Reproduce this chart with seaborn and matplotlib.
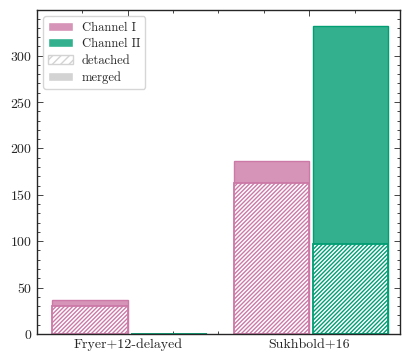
import pandas as pd
import seaborn as sns
import matplotlib.pyplot as plt
from matplotlib.patches import Patch
from matplotlib.colors import to_rgba
from matplotlib.ticker import MultipleLocator

# Bar data
models = ["Fryer+12-delayed", "Sukhbold+16"]
channels = ["Channel I", "Channel II"]
total_ch1 = [37, 186]
total_ch2 = [0, 332]
detached_ch1 = [30, 163]
detached_ch2 = [0, 97]

colors = {"Channel I": "#CC79A7", "Channel II": "#009E73"}

sns.set_style("ticks")
plt.rcParams["font.family"] = ["cmr10", "DejaVu Serif"]
plt.rcParams["axes.formatter.use_mathtext"] = True
plt.rcParams["mathtext.fontset"] = "cm"
plt.rcParams["hatch.linewidth"] = 1.0

total = pd.DataFrame(
    {
        "model": models * 2,
        "channel": ["Channel I"] * 2 + ["Channel II"] * 2,
        "count": total_ch1 + total_ch2,
    }
)
detached = pd.DataFrame(
    {
        "model": models * 2,
        "channel": ["Channel I"] * 2 + ["Channel II"] * 2,
        "count": detached_ch1 + detached_ch2,
    }
)

fig, ax = plt.subplots(figsize=(4.15, 3.63), dpi=100)

sns.barplot(
    data=total, x="model", y="count", hue="channel", hue_order=channels,
    palette=colors, width=0.83, gap=0.0, legend=False, ax=ax,
)
n_total = len(ax.patches)
sns.barplot(
    data=detached, x="model", y="count", hue="channel", hue_order=channels,
    palette=colors, width=0.83, gap=0.0, legend=False, ax=ax,
)

# patches are ordered by hue level, then category
for i, p in enumerate(ax.patches):
    ch = channels[(i % n_total) // len(models)]
    c = colors[ch]
    p.set_edgecolor(c)
    if ch == "Channel II":
        p.set_x(p.get_x() + 0.02)
    if i < n_total:
        p.set_facecolor(to_rgba(c, 0.8))
        p.set_linewidth(1.0)
    else:
        p.set_facecolor("white")
        p.set_hatch("////////")
        p.set_linewidth(1.3)

ax.set_xlim(-0.5, 1.5)
ax.set_ylim(0, 349)
ax.set_xlabel("")
ax.set_ylabel("")
ax.xaxis.set_minor_locator(MultipleLocator(0.25))
ax.yaxis.set_major_locator(MultipleLocator(50))
ax.yaxis.set_minor_locator(MultipleLocator(10))
ax.tick_params(which="both", direction="in", top=True, right=True, labelsize=10)
ax.tick_params(which="major", length=4, width=0.6)
ax.tick_params(which="minor", length=2, width=0.6)
for s in ax.spines.values():
    s.set_linewidth(1.0)

handles = [
    Patch(facecolor=to_rgba(colors["Channel I"], 0.8), label="Channel I"),
    Patch(facecolor=to_rgba(colors["Channel II"], 0.8), label="Channel II"),
    Patch(facecolor="white", edgecolor="lightgray", hatch="////", linewidth=1.0, label="detached"),
    Patch(facecolor="lightgray", label="merged"),
]
ax.legend(handles=handles, loc="upper left", fontsize=9, handlelength=2.0,
          labelspacing=0.35, handletextpad=0.7, borderpad=0.4,
          frameon=True, fancybox=True)

plt.subplots_adjust(left=0.089, right=0.964, top=0.972, bottom=0.080)
fig.savefig("out.png", dpi=100)
